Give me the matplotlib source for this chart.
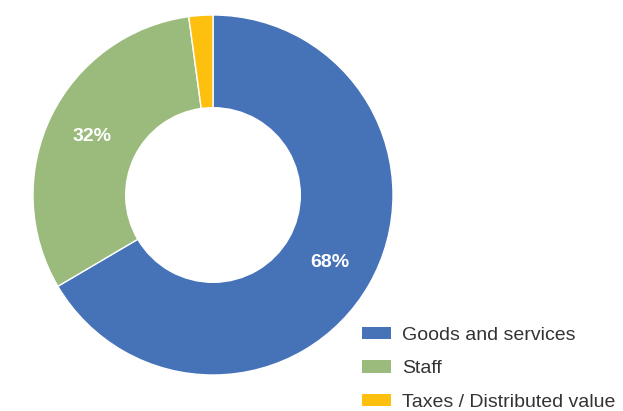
import matplotlib
matplotlib.use("Agg")
import matplotlib.pyplot as plt
import numpy as np

plt.rcParams['font.family'] = ['Liberation Sans', 'DejaVu Sans']

# share of value by destination
categories = ['Goods and services', 'Staff', 'Taxes / Distributed value']
values = [68, 32, 2.2]
shown = [True, True, False]
colors = ['#4672B8', '#9BBB7D', '#FEC00F']

fig = plt.figure(figsize=(6.23, 4.11), dpi=100)
ax = fig.add_axes([33 / 623, 36 / 411, 360 / 623, 360 / 411])

wedges, _ = ax.pie(values, colors=colors, startangle=90, counterclock=False,
                   radius=1.0,
                   wedgeprops=dict(width=0.515, edgecolor='white', linewidth=1))

for w, v, s in zip(wedges, values, shown):
    if not s:
        continue
    mid = np.deg2rad((w.theta1 + w.theta2) / 2)
    r = 0.75
    ax.text(r * np.cos(mid), r * np.sin(mid), f'{v:.0f}%', ha='center', va='center',
            color='white', fontsize=14, fontweight='bold')

ax.set_xlim(-1, 1)
ax.set_ylim(-1, 1)
ax.set_aspect('equal')
ax.axis('off')

leg = fig.legend(wedges, categories, loc='upper left',
                 bbox_to_anchor=(362 / 623, 1 - 327 / 411),
                 frameon=False, fontsize=14, handlelength=1.5, handleheight=0.6,
                 handletextpad=0.55, labelspacing=0.84, borderpad=0, borderaxespad=0)
for t in leg.get_texts():
    t.set_color('#333333')
for h in leg.legend_handles:
    h.set_edgecolor('none')

fig.savefig('out.png', dpi=100, facecolor='white')
